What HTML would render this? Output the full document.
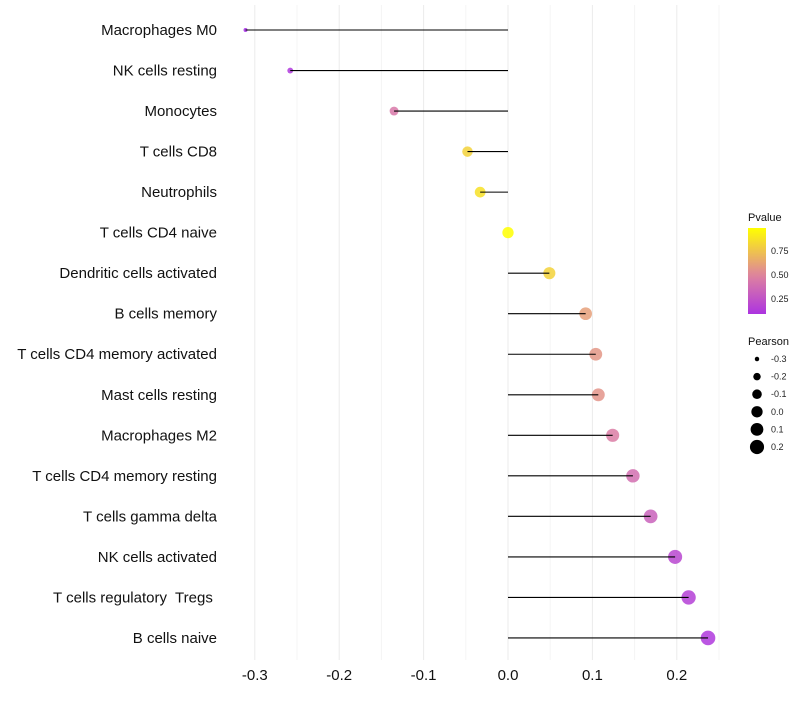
<!DOCTYPE html>
<html><head><meta charset="utf-8"><style>
body{margin:0;background:#fff;font-family:"Liberation Sans",sans-serif}
svg text{font-family:"Liberation Sans",sans-serif;white-space:pre}
</style></head><body>
<svg id="c" width="800" height="700"></svg>
<script>
const categories=["Macrophages M0","NK cells resting","Monocytes","T cells CD8","Neutrophils","T cells CD4 naive","Dendritic cells activated","B cells memory","T cells CD4 memory activated","Mast cells resting","Macrophages M2","T cells CD4 memory resting","T cells gamma delta","NK cells activated","T cells regulatory  Tregs ","B cells naive"];
const pearson=[-0.311,-0.258,-0.135,-0.048,-0.033,0.0,0.049,0.092,0.104,0.107,0.124,0.148,0.169,0.198,0.214,0.237];
const pvalues=[0.05,0.12,0.45,0.82,0.88,1.0,0.82,0.62,0.58,0.57,0.47,0.4,0.33,0.2,0.16,0.12];
const xTicks=[-0.3,-0.2,-0.1,0.0,0.1,0.2];
const pTicks=[0.25,0.5,0.75];
const sizeTicks=[-0.3,-0.2,-0.1,0.0,0.1,0.2];
const NS="http://www.w3.org/2000/svg",svg=document.getElementById('c');
function el(t,a,p){const e=document.createElementNS(NS,t);for(const k in a)e.setAttribute(k,a[k]);(p||svg).appendChild(e);return e;}
const x=v=>508+v*844;
const y=i=>30+i*40.53;
const r=v=>Math.sqrt(4+Math.max(0,v+0.31)*90);
function lerp(a,b,t){return a.map((c,i)=>Math.round(c+(b[i]-c)*t));}
function col(p){const s=[[0.0,[160,32,240]],[0.5,[222,130,160]],[1.0,[255,255,0]]];p=Math.max(0,Math.min(1,p));
for(let i=0;i<2;i++){if(p<=s[i+1][0]){const c=lerp(s[i][1],s[i+1][1],(p-s[i][0])/(s[i+1][0]-s[i][0]));return `rgb(${c})`;}}return 'rgb(255,255,0)';}
for(let v=-0.3;v<=0.251;v+=0.05){const g=el('line',{x1:x(v),x2:x(v),y1:5,y2:660,stroke:Math.abs(Math.round(v*100))%10==0?'#ebebeb':'#f4f4f4','stroke-width':1});

}
xTicks.forEach(v=>{const t=el('text',{x:x(v),y:680,'text-anchor':'middle','font-size':15,fill:'#111'});t.textContent=v.toFixed(1);

});
categories.forEach((c,i)=>{
const t=el('text',{x:217,y:y(i)+5,'text-anchor':'end','font-size':15,fill:'#111'});t.textContent=c;


const d=el('circle',{cx:x(pearson[i]),cy:y(i),r:r(pearson[i]),fill:col(pvalues[i]),'fill-opacity':0.85});


const l=el('line',{x1:x(0),x2:x(pearson[i]),y1:y(i),y2:y(i),stroke:'#000','stroke-width':1.1});


});
let t=el('text',{x:748,y:221,'font-size':11,fill:'#111'});t.textContent='Pvalue';


const defs=el('defs',{});const lg=el('linearGradient',{id:'g',x1:0,y1:1,x2:0,y2:0},defs);
for(let k=0;k<=10;k++){el('stop',{offset:k/10,'stop-color':col(0.1+k*0.09)},lg);}
const bar=el('rect',{x:748,y:228,width:18,height:86,fill:'url(#g)'});


pTicks.forEach(p=>{const yy=323-96*p;
const tt=el('text',{x:771,y:yy+3,'font-size':9,fill:'#222'});tt.textContent=p.toFixed(2);

});
t=el('text',{x:748,y:345,'font-size':11,fill:'#111'});t.textContent='Pearson';


sizeTicks.forEach((v,i)=>{const yy=359+i*17.6;
const c=el('circle',{cx:757,cy:yy,r:r(v),fill:'#000'});


const tt=el('text',{x:771,y:yy+3,'font-size':9,fill:'#222'});tt.textContent=v.toFixed(1);

});
</script>
</body></html>
